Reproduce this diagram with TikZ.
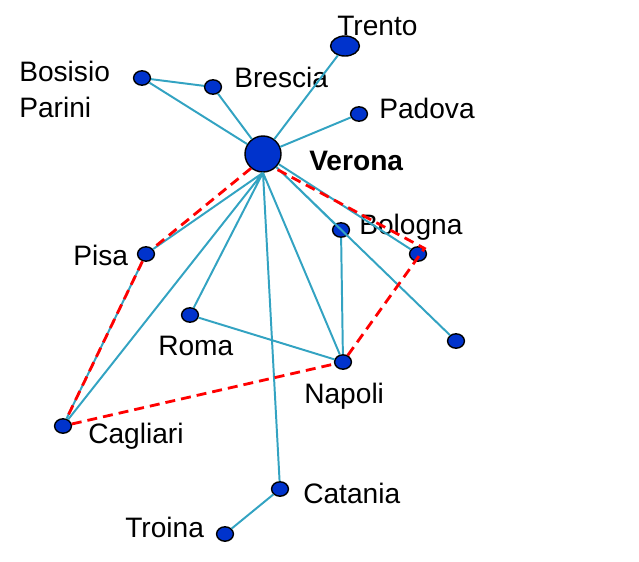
\documentclass[tikz,border=0pt]{standalone}
\usepackage{fontspec}
\setmainfont{Liberation Sans}
\usepackage{xcolor}
\usepackage{tikz}
\usetikzlibrary{shapes.geometric}
\definecolor{cityblue}{RGB}{0,51,204}
\definecolor{linkteal}{RGB}{51,163,194}

\begin{document}
\begin{tikzpicture}[x=0.025cm,y=-0.025cm,
  city/.style={ellipse,draw=black,line width=1pt,fill=cityblue,inner sep=0pt,minimum width=0.42cm,minimum height=0.36cm},
  place/.style={anchor=base west,inner sep=0pt,font=\fontsize{20}{25}\selectfont},
  link/.style={linkteal,line width=1.4pt},
  route/.style={red,line width=2pt,dash pattern=on 0.25cm off 0.15cm}]
\useasboundingbox (0,0) rectangle (639,561);
\node[city,minimum width=0.9cm,minimum height=0.9cm](verona) at (263,154) {};
\node[city,minimum width=0.72cm,minimum height=0.5cm](trento) at (345,46) {};
\node[city](bosisio) at (142,78) {};
\node[city](brescia) at (213,87) {};
\node[city](padova) at (359,114) {};
\node[city](pisa) at (146,254) {};
\node[city](bologna) at (341,230) {};
\node[city](extra1) at (418,254) {};
\node[city](roma) at (190,315) {};
\node[city](extra2) at (456,341) {};
\node[city](napoli) at (343,362) {};
\node[city](cagliari) at (63,426) {};
\node[city](catania) at (280,489) {};
\node[city](troina) at (225,534) {};
% labels
\node[place](ltrento) at (337,35) {Trento};
\node[place,align=left](lbosisio) at (19,117) {Bosisio\\Parini};
\node[place](lbrescia) at (234,87) {Brescia};
\node[place](lpadova) at (379,118) {Padova};
\node[place,font=\fontsize{20}{25}\selectfont\bfseries](lverona) at (309,170) {Verona};
\node[place](lbologna) at (359,234) {Bologna};
\node[place](lpisa) at (73,265) {Pisa};
\node[place](lroma) at (158,355) {Roma};
\node[place](lnapoli) at (304,403) {Napoli};
\node[place](lcagliari) at (88,443) {Cagliari};
\node[place](lcatania) at (303,503) {Catania};
\node[place](ltroina) at (125,537) {Troina};
% links
\draw[link](bosisio)--(brescia) (bosisio)--(verona) (brescia)--(verona)
(trento)--(verona) (padova)--(verona);
\draw[link](verona.south)--(pisa) (verona.south)--(cagliari) (verona.south)--(roma)
(verona.south)--(catania) (verona.south)--(napoli);
\draw[link](verona)--(bologna) (verona)--(extra1) (verona)--(extra2);
\draw[link](bologna)--(napoli) (roma)--(napoli) (pisa)--(cagliari) (catania)--(troina);
% route
\draw[route](verona.230)--(pisa)--(cagliari)--(napoli)--(extra1.north east)--(verona.310);
\end{tikzpicture}
\end{document}
